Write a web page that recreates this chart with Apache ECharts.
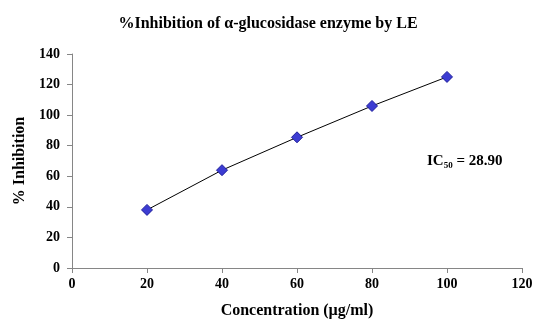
<!DOCTYPE html>
<html lang="en">
<head>
    <meta charset="UTF-8">
    <title>%Inhibition of α-glucosidase enzyme by LE</title>
    <script src="https://cdn.jsdelivr.net/npm/echarts@6/dist/echarts.min.js"></script>
    <style>
        body { margin: 0; background: #ffffff; }
        #chart { width: 536px; height: 321px; }
    </style>
</head>
<body>
    <div id="chart"></div>
    <script>
        // concentrations (µg/ml) and % inhibition
        let concentration = [20, 40, 60, 80, 100];
        let inhibition = [38, 64, 85.5, 106, 125];
        let ic50Text = '28.90';

        let serif = '"Liberation Serif", "DejaVu Serif", serif';
        let axisGray = '#868686';

        let option = {
            backgroundColor: '#ffffff',
            animation: false,
            title: {
                text: '%Inhibition of α-glucosidase enzyme by LE',
                left: 'center',
                top: 11,
                textStyle: { fontFamily: serif, fontWeight: 'bold', fontSize: 16, color: '#000' }
            },
            grid: { left: 72, right: 14, top: 54, bottom: 53, outerBoundsMode: 'none' },
            xAxis: {
                type: 'value',
                min: 0,
                max: 120,
                interval: 20,
                name: 'Concentration (µg/ml)',
                nameLocation: 'middle',
                nameGap: 35,
                nameTextStyle: { fontFamily: serif, fontWeight: 'bold', fontSize: 16, color: '#000' },
                axisLine: { lineStyle: { color: axisGray, width: 1 } },
                axisTick: { length: 5, lineStyle: { color: axisGray } },
                axisLabel: { fontFamily: serif, fontWeight: 'bold', fontSize: 14, color: '#000', margin: 9 },
                splitLine: { show: false }
            },
            yAxis: {
                type: 'value',
                min: 0,
                max: 140,
                interval: 20,
                name: '% Inhibition',
                nameLocation: 'middle',
                nameGap: 42,
                nameTextStyle: { fontFamily: serif, fontWeight: 'bold', fontSize: 16, color: '#000' },
                axisLine: { show: true, lineStyle: { color: axisGray, width: 1 } },
                axisTick: { show: true, length: 5, lineStyle: { color: axisGray } },
                axisLabel: { fontFamily: serif, fontWeight: 'bold', fontSize: 14, color: '#000', margin: 12 },
                splitLine: { show: false }
            },
            series: [
                {
                    type: 'line',
                    data: concentration.map((c, i) => [c, inhibition[i]]),
                    symbol: 'diamond',
                    symbolSize: 11,
                    itemStyle: { color: '#3c3cd2', borderColor: '#1f1f9c', borderWidth: 1 },
                    lineStyle: { color: '#000000', width: 1 },
                    z: 3
                }
            ],
            graphic: [
                {
                    type: 'text',
                    left: 427,
                    top: 154,
                    style: {
                        text: '{b|IC}{s|50}{b| = ' + ic50Text + '}',
                        rich: {
                            b: { fontFamily: serif, fontWeight: 'bold', fontSize: 15, fill: '#000' },
                            s: { fontFamily: serif, fontWeight: 'bold', fontSize: 9, fill: '#000', verticalAlign: 'bottom', padding: [8, 0, 0, 0] }
                        }
                    }
                }
            ]
        };

        let chart = echarts.init(document.getElementById('chart'));
        chart.setOption(option);
    </script>
</body>
</html>
